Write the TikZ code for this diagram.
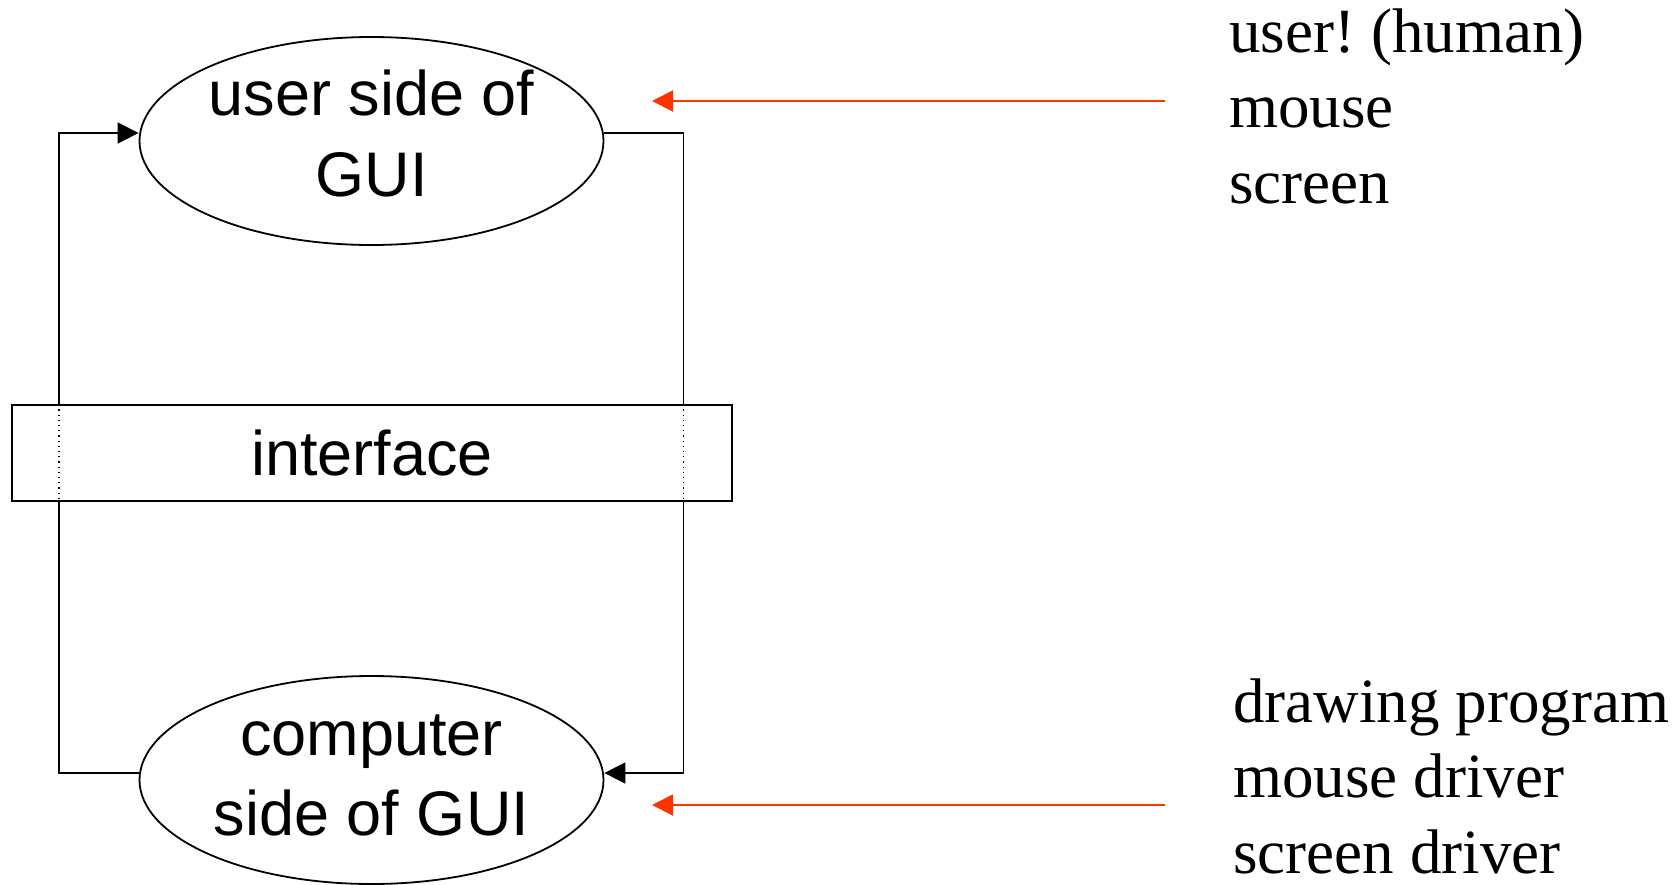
\documentclass[tikz,border=0pt]{standalone}
\usepackage{fontspec}
\setmainfont{Liberation Serif}
\newfontfamily\arialfont{Liberation Sans}
\usetikzlibrary{arrows.meta,shapes.geometric}
\definecolor{feedred}{RGB}{255,51,0}
\frenchspacing
\begin{document}
\begin{tikzpicture}[x=0.5pt,y=-0.5pt,
  sidebox/.style={draw, line width=0.9pt, ellipse, minimum width=232pt,
    minimum height=104pt, inner sep=0pt, align=center,
    text height=60pt, text depth=5pt,
    font=\arialfont\fontsize{31.5pt}{39pt}\selectfont},
  ifacebox/.style={draw, line width=0.9pt, fill=white, rectangle,
    minimum width=360pt, minimum height=48pt, inner sep=0pt,
    font=\arialfont\fontsize{31.5pt}{39pt}\selectfont},
  loopline/.style={line width=0.8pt, -{Triangle[length=10.5pt,width=10.5pt]}},
  feedarrow/.style={feedred, line width=1pt, -{Triangle[length=10.5pt,width=10.5pt]}},
  listtext/.style={anchor=base west, inner sep=0pt, align=left,
    font=\fontsize{31.5pt}{37.75pt}\selectfont}
]
\useasboundingbox (0,0) rectangle (1680,884);

% the two sides of the GUI
\node[sidebox] (top) at (371.5,141) {user side of\\[1.5pt]GUI};
\node[sidebox] (bot) at (371.5,780) {computer\\[1pt]side of GUI};

% rails of the loop between the two sides
\coordinate (leftrail) at (59,453);
\coordinate (rightrail) at (683.5,453);
\draw[loopline] ([yshift=3.5pt]bot.west) -| (leftrail) |- ([yshift=4pt]top.west);
\draw[loopline] ([yshift=4pt]top.east) -| (rightrail) |- ([yshift=3.5pt]bot.east);

% interface band laid over the rails
\node[ifacebox] (iface) at (372,453) {interface};
\draw[dotted, line width=0.6pt] (iface.north -| leftrail) -- (iface.south -| leftrail);
\draw[dotted, line width=0.6pt] (iface.north -| rightrail) -- (iface.south -| rightrail);

% what each side consists of (base anchor sits on the last line)
\node[listtext] (userlist) at (1229,203) {user! (human)\\mouse\\screen};
\node[listtext] (complist) at (1233,873) {drawing program\\mouse driver\\screen driver};

\coordinate (usrsrc) at (1165,101);
\coordinate (usrtip) at (652,101);
\coordinate (cmpsrc) at (1165,805);
\coordinate (cmptip) at (652,805);
\draw[feedarrow] (usrsrc) -- (usrtip);
\draw[feedarrow] (cmpsrc) -- (cmptip);
\end{tikzpicture}
\end{document}
